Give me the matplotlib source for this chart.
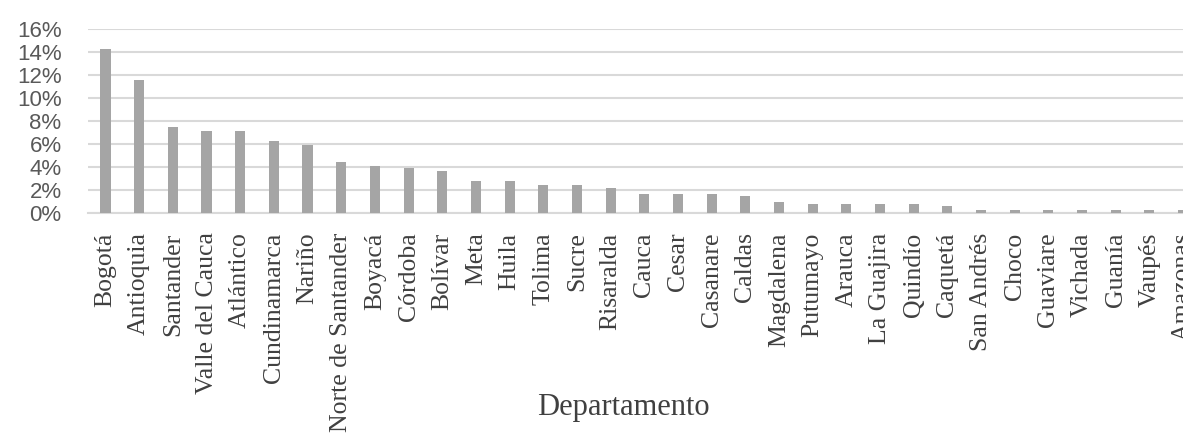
import matplotlib.pyplot as plt
from matplotlib.ticker import PercentFormatter

# Share per department (%)
departamentos = ['Bogotá', 'Antioquia', 'Santander', 'Valle del Cauca', 'Atlántico',
                 'Cundinamarca', 'Nariño', 'Norte de Santander', 'Boyacá', 'Córdoba',
                 'Bolívar', 'Meta', 'Huila', 'Tolima', 'Sucre', 'Risaralda', 'Cauca',
                 'Cesar', 'Casanare', 'Caldas', 'Magdalena', 'Putumayo', 'Arauca',
                 'La Guajira', 'Quindío', 'Caquetá', 'San Andrés', 'Choco', 'Guaviare',
                 'Vichada', 'Guanía', 'Vaupés', 'Amazonas']
porcentajes = [14.26, 11.53, 7.5, 7.13, 7.13,
               6.23, 5.88, 4.4, 4.05, 3.88,
               3.68, 2.75, 2.75, 2.4, 2.4, 2.2, 1.65,
               1.65, 1.65, 1.48, 0.92, 0.78, 0.78,
               0.78, 0.78, 0.58, 0.23, 0.23, 0.23,
               0.23, 0.23, 0.23, 0.23]
y_ticks = [0, 2, 4, 6, 8, 10, 12, 14, 16]

fig = plt.figure(figsize=(11.83, 4.34), dpi=100)
ax = fig.add_axes([88 / 1183, 1 - 213 / 434, 1 - 88 / 1183, 184 / 434])

x = list(range(len(departamentos)))
ax.bar(x, porcentajes, width=0.3, color='#a5a5a5', zorder=3)

# Axis range and grid (last label is cut at the right edge, as in the source)
ax.set_xlim(-0.52, 31.22)
ax.set_ylim(0, 16)
ax.set_yticks(y_ticks)
ax.yaxis.set_major_formatter(PercentFormatter(decimals=0))
ax.grid(axis='y', color='#d9d9d9', linewidth=1.5, zorder=0)
ax.set_axisbelow(True)

for side in ['top', 'right', 'left']:
    ax.spines[side].set_visible(False)
ax.spines['bottom'].set_color('#d9d9d9')
ax.spines['bottom'].set_linewidth(1.5)

ax.tick_params(axis='y', length=0, pad=19, labelsize=16, labelcolor='#595959')
ax.tick_params(axis='x', length=0, pad=14)
for lbl in ax.get_yticklabels():
    lbl.set_family('Liberation Sans')

ax.set_xticks(x)
ax.set_xticklabels(departamentos, rotation=90, fontsize=18.5, family='Liberation Serif',
                   color='#404040')

ax.set_xlabel('Departamento', fontsize=22, family='Liberation Serif', color='#404040',
              va='center')
ax.xaxis.set_label_coords((623 - 88) / 1095, (213 - 408) / 184)

plt.savefig('out.png', dpi=100)
